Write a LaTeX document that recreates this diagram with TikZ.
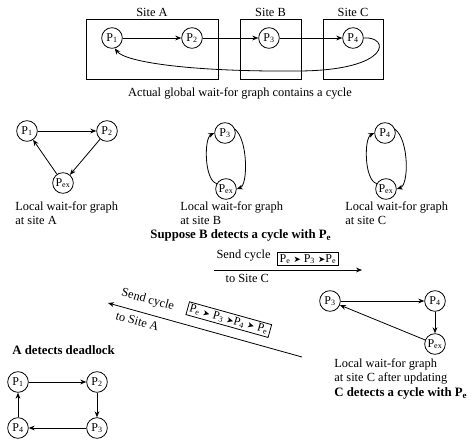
\documentclass[tikz,border=0pt]{standalone}
\usepackage{fontspec}
\setmainfont{Liberation Serif}
\newfontfamily\symfont{DejaVu Sans}
\usetikzlibrary{positioning}
\usetikzlibrary{arrows.meta}
\newcommand\pn[1]{P\textsubscript{#1}}
\newcommand\nxt{{\symfont\fontsize{6.5}{7}\selectfont ➤}}
\tikzset{
  proc/.style={draw, circle, minimum size=15.5pt, inner sep=0pt, font=\fontsize{9}{10}\selectfont},
  site/.style={draw, minimum height=45pt},
  lbl/.style={inner sep=0pt, font=\fontsize{9.3}{10.5}\selectfont},
  boldlbl/.style={inner sep=0pt, font=\fontsize{9.6}{10.5}\selectfont\bfseries},
  cyclebox/.style={draw, inner sep=1.5pt, font=\fontsize{9}{10}\selectfont},
  wait/.style={-{Stealth[length=4.5pt, width=3.6pt]}},
  waitback/.style={{Stealth[length=4.5pt, width=3.6pt]}-},
}

\begin{document}
\begin{tikzpicture}[x=0.75pt, y=-0.75pt, line width=0.6pt]
\useasboundingbox (0,0) rectangle (474,439);
% global graph
\node[site, minimum width=99pt] (siteA) at (152,49) {};
\node[site, minimum width=45.75pt] (siteB) at (270.5,49) {};
\node[site, minimum width=45pt] (siteC) at (353,49) {};
\node[lbl, above=1.5pt of siteA] {Site A};
\node[lbl, above=1.5pt of siteB] {Site B};
\node[lbl, above=1.5pt of siteC] {Site C};
\node[proc] (p1) at (112,38) {\pn{1}};
\node[proc] (p2) at (192,38) {\pn{2}};
\node[proc] (p3) at (269,38) {\pn{3}};
\node[proc] (p4) at (353,38) {\pn{4}};
\draw[wait] (p1) -- (p2);
\draw[wait] (p2) -- (p3);
\draw[wait] (p3) -- (p4);
\draw[wait] (p4.east) .. controls (390,36) and (392,70) .. (300,71)
  .. controls (190,72) and (125,62) .. (p1.-75);
\node[lbl] (cap) at (240,93) {Actual global wait-for graph contains a cycle};
% site A
\node[proc] (a1) at (27,131) {\pn{1}};
\node[proc] (a2) at (107,131) {\pn{2}};
\node[proc] (ax) at (63,183) {\pn{ex}};
\draw[wait] (a1) -- (a2);
\draw[wait] (a2) -- (ax);
\draw[wait] (ax) -- (a1);
\node[lbl, anchor=north west, align=left] (txtA) at (15,201) {Local wait-for graph\\at site A};
% site B
\node[proc] (b3) at (225,133) {\pn{3}};
\node[proc] (bx) at (226,189) {\pn{ex}};
\draw[wait] (b3.20) .. controls (248,140) and (248,185) .. (bx.east);
\draw[wait] (bx.150) .. controls (204,180) and (204,138) .. (b3.west);
\node[lbl, anchor=north west, align=left] (txtB) at (180,201) {Local wait-for graph\\at site B};
% site C
\node[proc] (c4) at (385,133) {\pn{4}};
\node[proc] (cx) at (386,189) {\pn{ex}};
\draw[wait] (c4.20) .. controls (409,140) and (409,185) .. (cx.east);
\draw[wait] (cx.150) .. controls (364,180) and (364,138) .. (c4.west);
\node[lbl, anchor=north west, align=left] (txtC) at (345,201) {Local wait-for graph\\at site C};
\node[boldlbl, anchor=west] (detB) at (150,235) {Suppose B detects a cycle with \pn{e}};
% message to C
\coordinate (sendC0) at (214,270);
\coordinate (sendC1) at (362,270);
\draw[wait] (sendC0) -- (sendC1)
  node[lbl, pos=0.2, above=6pt] {Send cycle}
  node[cyclebox, pos=0.635, above=3pt] {\pn{e} \nxt{} \pn{3} \nxt{}\pn{e}}
  node[lbl, pos=0.225, below=3pt] {to Site C};
% site C after updating
\node[proc] (u3) at (330,301) {\pn{3}};
\node[proc] (u4) at (435,301) {\pn{4}};
\node[proc] (ux) at (435,344) {\pn{ex}};
\draw[wait] (u3) -- (u4);
\draw[wait] (u4) -- (ux);
\draw[wait] (ux) -- (u3);
\node[lbl, anchor=north west, align=left] (txtU) at (334,358) {Local wait-for graph\\at site C after updating};
\node[boldlbl, anchor=west] (detC) at (334,393) {C detects a cycle with \pn{e}};
% message to A
\coordinate (sendA1) at (108,303);
\coordinate (sendA0) at (302,357);
\draw[waitback] (sendA1) -- (sendA0)
  node[lbl, sloped, pos=0.186, above=5.5pt] {Send cycle}
  node[cyclebox, sloped, pos=0.6, above=7pt] {\pn{e} \nxt{} \pn{3} \nxt{}\pn{4} \nxt{} \pn{e}}
  node[lbl, sloped, pos=0.165, below=4pt] {to Site A};
% deadlock at A
\node[boldlbl, anchor=west] (detA) at (12,350) {A detects deadlock};
\node[proc] (d1) at (18,382) {\pn{1}};
\node[proc] (d2) at (97,382) {\pn{2}};
\node[proc] (d3) at (97,428) {\pn{3}};
\node[proc] (d4) at (18,428) {\pn{4}};
\draw[wait] (d1) -- (d2);
\draw[wait] (d2) -- (d3);
\draw[wait] (d3) -- (d4);
\draw[wait] (d4) -- (d1);
\end{tikzpicture}
\end{document}
